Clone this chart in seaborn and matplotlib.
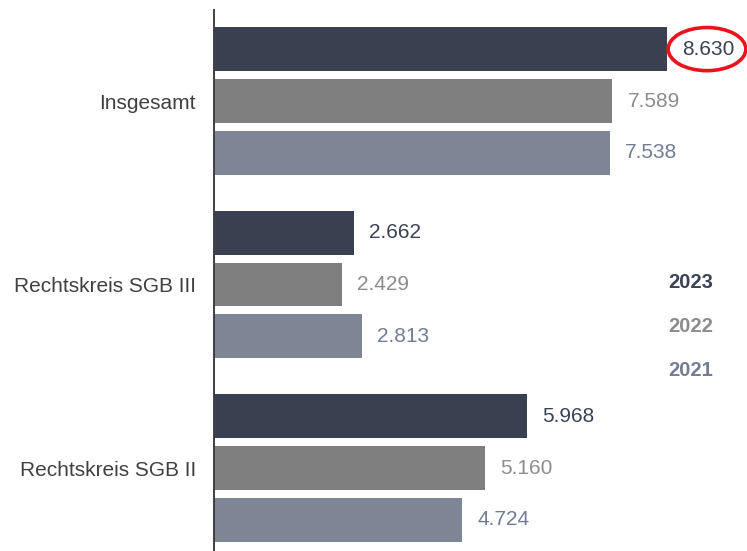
import matplotlib
matplotlib.use("Agg")
import matplotlib.pyplot as plt
from matplotlib.patches import Ellipse
import pandas as pd
import seaborn as sns

categories = ["Insgesamt", "Rechtskreis SGB III", "Rechtskreis SGB II"]
years = ["2023", "2022", "2021"]
values_2023 = [8630, 2662, 5968]
values_2022 = [7589, 2429, 5160]
values_2021 = [7538, 2813, 4724]

bar_colors = {"2023": "#373e54", "2022": "#7f7f7f", "2021": "#7b8398"}
label_colors = {"2023": "#3b4254", "2022": "#8c8c8c", "2021": "#737c92"}

rows = []
for year, vals in zip(years, [values_2023, values_2022, values_2021]):
    for cat, v in zip(categories, vals):
        rows.append({"Kategorie": cat, "Jahr": year, "Wert": v})
df = pd.DataFrame(rows)

sns.set_style("white")
plt.rcParams["font.family"] = ["Liberation Sans", "DejaVu Sans"]

fig = plt.figure(figsize=(7.47, 5.51), dpi=100)
ax = fig.add_axes([214 / 747, 0, 533 / 747, 541 / 551])

sns.barplot(data=df, y="Kategorie", x="Wert", hue="Jahr", order=categories,
            hue_order=years, palette=bar_colors, orient="h", width=0.848,
            gap=0.154, legend=False, ax=ax, edgecolor="none")

ax.set_xlim(0, 10154)
ax.set_ylim(2.452, -0.496)

# value labels, German thousands separator
for container, year in zip(ax.containers, years):
    labels = [f"{int(round(v)):,}".replace(",", ".") for v in container.datavalues]
    ax.bar_label(container, labels=labels, padding=11, fontsize=15,
                 color=label_colors[year])

# red ring around the highlighted value
ax.add_patch(Ellipse((9392, -0.283), 1480, 0.235, fill=False,
                     edgecolor="#e8141c", linewidth=2.6, clip_on=False))

ax.set_xlabel("")
ax.set_ylabel("")
ax.set_xticks([])
ax.tick_params(axis="y", length=0, pad=13, labelsize=15, labelcolor="#404040")
for side in ["top", "right", "bottom"]:
    ax.spines[side].set_visible(False)
ax.spines["left"].set_color("#404040")
ax.spines["left"].set_linewidth(1.4)

# year legend as coloured text
for year, ypos in zip(years, [283, 327, 371]):
    fig.text(668 / 747, 1 - ypos / 551, year, fontsize=14.5, fontweight="bold",
             color=label_colors[year], va="center", ha="left")

fig.savefig("out.png", dpi=100)
